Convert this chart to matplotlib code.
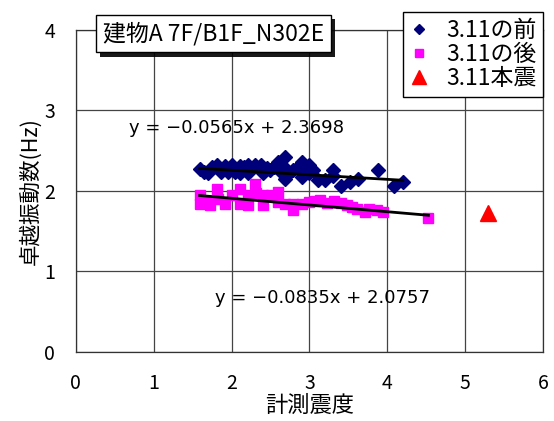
import matplotlib
matplotlib.use("Agg")
import matplotlib.pyplot as plt
import matplotlib.patheffects as pe
import numpy as np

plt.rcParams['font.family'] = ['Noto Sans CJK JP', 'DejaVu Sans']

# 3.11 before: instrumental intensity vs. predominant frequency
before_x = [1.59, 1.65, 1.70, 1.75, 1.81, 1.86, 1.91, 1.96, 2.00, 2.05, 2.11, 2.11,
            2.16, 2.21, 2.21, 2.26, 2.30, 2.38, 2.41, 2.45, 2.49, 2.55, 2.60, 2.64,
            2.68, 2.68, 2.68, 2.74, 2.79, 2.85, 2.90, 2.90, 2.95, 3.00, 3.00, 3.05,
            3.11, 3.20, 3.30, 3.30, 3.41, 3.52, 3.62, 3.88, 4.09, 4.20]
before_y = [2.27, 2.24, 2.22, 2.30, 2.32, 2.23, 2.31, 2.24, 2.32, 2.24, 2.31, 2.22,
            2.30, 2.32, 2.22, 2.28, 2.32, 2.32, 2.22, 2.28, 2.26, 2.30, 2.36, 2.24,
            2.42, 2.28, 2.15, 2.22, 2.26, 2.30, 2.36, 2.17, 2.28, 2.32, 2.22, 2.26,
            2.13, 2.13, 2.26, 2.19, 2.06, 2.11, 2.15, 2.26, 2.06, 2.11]

# 3.11 after
after_x = [1.59, 1.59, 1.70, 1.72, 1.81, 1.83, 1.91, 2.00, 2.11, 2.11, 2.21, 2.21,
           2.30, 2.32, 2.41, 2.41, 2.51, 2.60, 2.60, 2.68, 2.79, 2.79, 2.90, 3.00,
           3.07, 3.14, 3.23, 3.31, 3.40, 3.48, 3.55, 3.61, 3.72, 3.76, 3.87, 3.95,
           4.53]
after_y = [1.95, 1.84, 1.88, 1.82, 2.03, 1.90, 1.84, 1.95, 2.03, 1.84, 1.95, 1.82,
           2.09, 1.97, 1.82, 1.95, 1.95, 1.99, 1.86, 1.84, 1.76, 1.84, 1.84, 1.86,
           1.88, 1.89, 1.85, 1.87, 1.85, 1.83, 1.80, 1.78, 1.74, 1.78, 1.76, 1.74,
           1.66]

# 3.11 main shock
main_x = [5.30]
main_y = [1.72]

# linear fits (slope, intercept)
fit_before = (-0.0565, 2.3698)
fit_after = (-0.0835, 2.0757)

x_ticks = [0, 1, 2, 3, 4, 5, 6]
y_ticks = [0, 1, 2, 3, 4]

fig = plt.figure(figsize=(5.54, 4.21), dpi=100)
ax = fig.add_axes([0.137, 0.164, 0.843, 0.765])

ax.set_xlim(0, 6)
ax.set_ylim(0, 4)
ax.set_xticks(x_ticks)
ax.set_yticks(y_ticks)
ax.grid(True, color='#444444', linewidth=0.9)
ax.set_axisbelow(True)
for s in ax.spines.values():
    s.set_color('#333333')
    s.set_linewidth(0.9)
ax.tick_params(length=0, labelsize=14, pad=15)
ax.tick_params(axis='y', pad=15)

h1, = ax.plot(before_x, before_y, 'D', color='#00007a', ms=7, ls='none',
              label='3.11の前', zorder=3)
h2, = ax.plot(after_x, after_y, 's', color='#ff00ff', ms=7, ls='none',
              label='3.11の後', zorder=3)
h3, = ax.plot(main_x, main_y, '^', color='#ff0000', ms=12, ls='none',
              label='3.11本震', zorder=3)

xb = np.array([min(before_x), max(before_x)])
ax.plot(xb, fit_before[0] * xb + fit_before[1], color='black', lw=2, zorder=4)
xa = np.array([min(after_x), max(after_x)])
ax.plot(xa, fit_after[0] * xa + fit_after[1], color='black', lw=2, zorder=4)

def eq_text(m, b):
    return f"y = \u2212{abs(m):.4f}x + {b:.4f}"

eq_font = dict(fontsize=13, family=['DejaVu Sans'], va='center', ha='left', zorder=2)
ax.text(0.68, 2.78, eq_text(*fit_before), **eq_font)
ax.text(1.79, 0.67, eq_text(*fit_after), **eq_font)

ax.set_xlabel('計測震度', fontsize=16, labelpad=0)
ax.set_ylabel('卓越振動数(Hz)', fontsize=15.5, labelpad=2)

# building caption box with shadow
fig.text(0.385, 0.920, '建物A 7F/B1F_N302E', fontsize=16.5, ha='center', va='center',
         bbox=dict(boxstyle='square,pad=0.3', fc='white', ec='black', lw=1,
                   path_effects=[pe.SimplePatchShadow(offset=(3, -3), shadow_rgbFace='black', alpha=0.9),
                                 pe.Normal()]))

# legend box runs past the right edge of the figure
leg = fig.legend(handles=[h1, h2, h3], loc='upper left',
                 bbox_to_anchor=(0.727, 0.972), bbox_transform=fig.transFigure,
                 fontsize=16.5, frameon=True, fancybox=False, edgecolor='black',
                 handlelength=0.8, handletextpad=0.8, labelspacing=0.05,
                 borderpad=0.3, borderaxespad=0, markerscale=0.8)
leg.get_frame().set_linewidth(1)
leg.get_frame().set_alpha(1)
leg._legend_box.sep = 0

fig.canvas.draw()
frame = leg.get_frame()
frame.set_width(frame.get_width() + 25)

fig.savefig('out.png', dpi=100)
